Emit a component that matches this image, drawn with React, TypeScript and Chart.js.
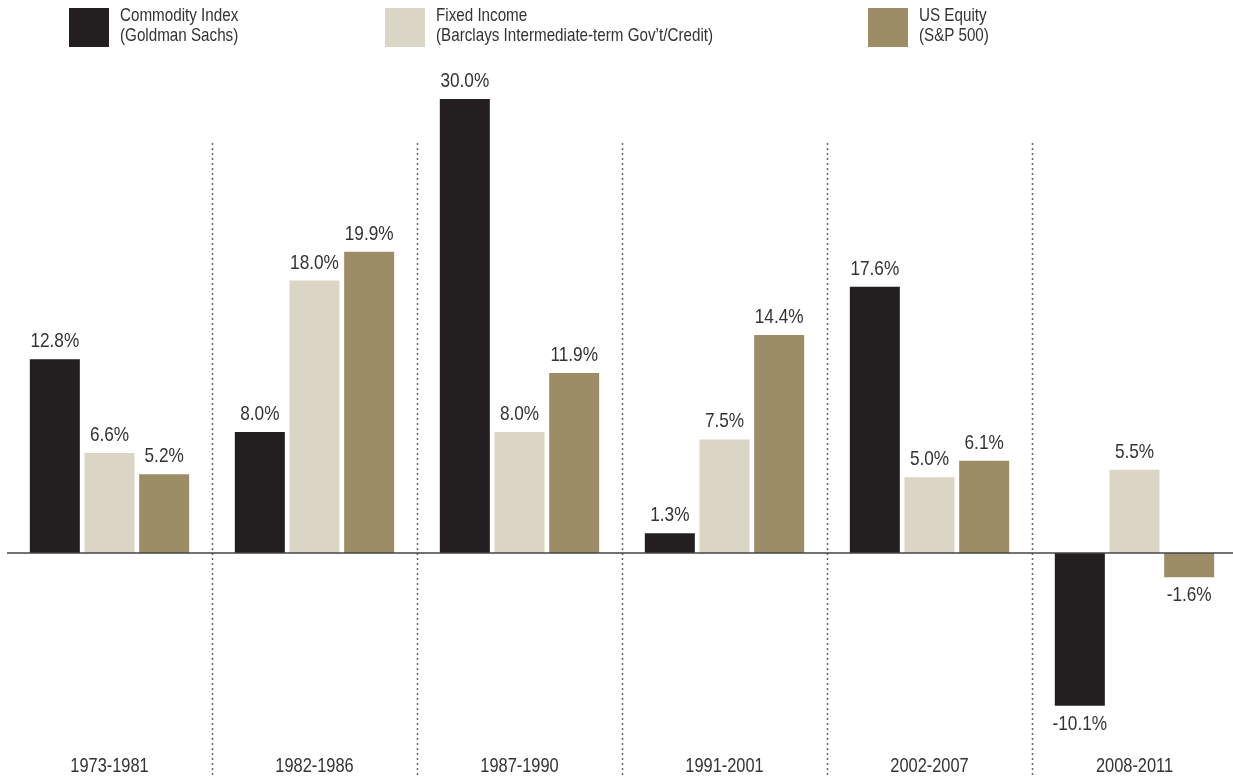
import React, { useEffect, useRef } from "react";
import { Chart, registerables } from "chart.js";

Chart.register(...registerables);

const periods = ["1973-1981", "1982-1986", "1987-1990", "1991-2001", "2002-2007", "2008-2011"];
const commodity = [12.8, 8.0, 30.0, 1.3, 17.6, -10.1];
const fixedIncome = [6.6, 18.0, 8.0, 7.5, 5.0, 5.5];
const usEquity = [5.2, 19.9, 11.9, 14.4, 6.1, -1.6];

const seriesNames = [
  ["Commodity Index", "(Goldman Sachs)"],
  ["Fixed Income", "(Barclays Intermediate-term Gov\u2019t/Credit)"],
  ["US Equity", "(S&P 500)"],
];
const seriesColors = ["#231f20", "#dbd5c5", "#9d8d66"];

const FONT = '"Liberation Sans", Arial, sans-serif';
const TEXT = "#333333";
const SQUEEZE = 0.82;

function squeezedText(ctx: CanvasRenderingContext2D, txt: string, x: number, y: number) {
  ctx.save();
  ctx.translate(x, y);
  ctx.scale(SQUEEZE, 1);
  ctx.fillText(txt, 0, 0);
  ctx.restore();
}

const decorPlugin = {
  id: "decor",
  beforeDatasetsDraw(chart: any) {
    const { ctx, chartArea } = chart;
    const x = chart.scales.x;
    ctx.save();
    ctx.strokeStyle = "#666666";
    ctx.lineWidth = 1.5;
    ctx.setLineDash([2, 3]);
    for (let i = 0; i < periods.length - 1; i++) {
      const sx = Math.round((x.getPixelForValue(i) + x.getPixelForValue(i + 1)) / 2) + 0.5;
      ctx.beginPath();
      ctx.moveTo(sx, 143);
      ctx.lineTo(sx, chartArea.bottom);
      ctx.stroke();
    }
    ctx.restore();
  },
  afterDatasetsDraw(chart: any) {
    const { ctx, chartArea } = chart;
    const x = chart.scales.x;
    const y = chart.scales.y;
    const zeroY = y.getPixelForValue(0);
    ctx.save();
    ctx.strokeStyle = "#444444";
    ctx.lineWidth = 1.5;
    ctx.setLineDash([]);
    ctx.beginPath();
    ctx.moveTo(chartArea.left, zeroY);
    ctx.lineTo(chartArea.right, zeroY);
    ctx.stroke();

    ctx.fillStyle = TEXT;
    ctx.font = `21px ${FONT}`;
    ctx.textAlign = "center";
    chart.data.datasets.forEach((ds: any, di: number) => {
      const meta = chart.getDatasetMeta(di);
      meta.data.forEach((el: any, j: number) => {
        const v = ds.data[j];
        const txt = v.toFixed(1) + "%";
        ctx.textBaseline = "alphabetic";
        if (v >= 0) {
          squeezedText(ctx, txt, el.x, el.y - 12);
        } else {
          squeezedText(ctx, txt, el.x, el.y + 24);
        }
      });
    });

    ctx.font = `20px ${FONT}`;
    ctx.textBaseline = "alphabetic";
    periods.forEach((p, i) => {
      squeezedText(ctx, p, x.getPixelForValue(i), chartArea.bottom - 6);
    });
    ctx.restore();
  },
};

export default function App() {
  const ref = useRef<HTMLCanvasElement | null>(null);

  useEffect(() => {
    if (!ref.current) return;
    const chart = new Chart(ref.current, {
      type: "bar",
      data: {
        labels: periods,
        datasets: [
          { label: seriesNames[0].join(" "), data: commodity, backgroundColor: seriesColors[0] },
          { label: seriesNames[1].join(" "), data: fixedIncome, backgroundColor: seriesColors[1] },
          { label: seriesNames[2].join(" "), data: usEquity, backgroundColor: seriesColors[2] },
        ],
      },
      options: {
        responsive: false,
        animation: false,
        devicePixelRatio: 1,
        layout: { padding: { left: 7, right: 3, top: 0, bottom: 0 } },
        datasets: { bar: { categoryPercentage: 0.8, barPercentage: 0.915 } },
        scales: {
          x: { display: false, grid: { display: false } },
          y: { display: false, min: -14.868, max: 36.54, grid: { display: false } },
        },
        plugins: {
          legend: { display: false },
          tooltip: { enabled: false },
          title: { display: false },
        },
      },
      plugins: [decorPlugin],
    });
    return () => chart.destroy();
  }, []);

  const legendLeft = [69, 385, 868];

  return (
    <div
      style={{
        position: "fixed",
        left: 0,
        top: 0,
        width: 1233,
        height: 778,
        overflow: "hidden",
        background: "#ffffff",
      }}
    >
      <canvas ref={ref} width={1240} height={778} style={{ width: 1240, height: 778, display: "block" }} />
      {seriesNames.map((lines, i) => (
        <div key={i} style={{ position: "absolute", left: legendLeft[i], top: 8, display: "flex" }}>
          <div style={{ width: 40, height: 39, background: seriesColors[i], flex: "none" }} />
          <div
            style={{
              marginLeft: 11,
              marginTop: -3,
              fontFamily: FONT,
              fontSize: 19,
              lineHeight: "20px",
              color: TEXT,
              whiteSpace: "nowrap",
              transform: "scaleX(0.8)",
              transformOrigin: "left top",
            }}
          >
            <div>{lines[0]}</div>
            <div>{lines[1]}</div>
          </div>
        </div>
      ))}
    </div>
  );
}
